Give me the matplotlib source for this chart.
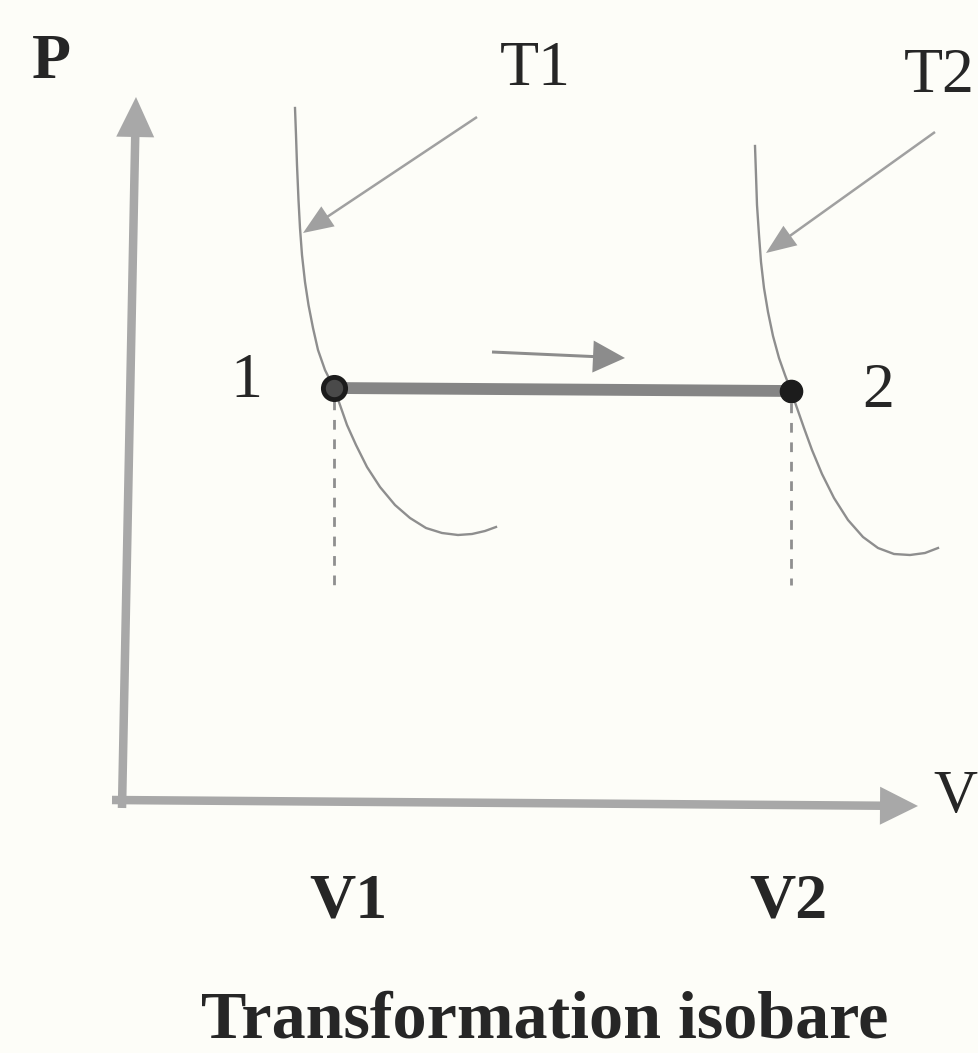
import matplotlib.pyplot as plt

# isobaric process diagram, V and P in arbitrary units (origin = axes corner)

v_states = [2.14, 6.71]      # V1, V2
p_states = [4.12, 4.09]      # pressure of states 1 and 2 (same isobar)
state_labels = ["1", "2"]
v_labels = ["V1", "V2"]

# isotherm T1
t1_v = [1.75, 1.76, 1.77, 1.785, 1.80, 1.82, 1.85, 1.885, 1.93, 1.98, 2.05,
        2.14, 2.20, 2.27, 2.36, 2.47, 2.60, 2.75, 2.90, 3.06, 3.22, 3.38,
        3.52, 3.65, 3.76]
t1_p = [6.92, 6.65, 6.35, 6.00, 5.72, 5.45, 5.18, 4.95, 4.72, 4.50, 4.30,
        4.12, 3.95, 3.75, 3.55, 3.33, 3.13, 2.95, 2.82, 2.72, 2.67, 2.65,
        2.66, 2.69, 2.73]

# isotherm T2
t2_v = [6.35, 6.36, 6.37, 6.39, 6.41, 6.44, 6.48, 6.53, 6.59, 6.65, 6.71,
        6.77, 6.84, 6.92, 7.02, 7.14, 7.28, 7.43, 7.58, 7.74, 7.90, 8.05,
        8.18]
t2_p = [6.54, 6.25, 5.95, 5.65, 5.38, 5.12, 4.88, 4.64, 4.42, 4.25, 4.09,
        3.92, 3.72, 3.50, 3.26, 3.02, 2.80, 2.63, 2.52, 2.46, 2.45, 2.47,
        2.52]

dash_bottom = 2.15

serif = ["Liberation Serif", "DejaVu Serif"]
ink = "#262626"
bg = "#fdfdf8"

fig = plt.figure(figsize=(9.79, 10.53), dpi=100, facecolor=bg)
ax = fig.add_axes([0, 0, 1, 1])
ax.set_facecolor(bg)
ax.set_xlim(-1.2, 8.59)
ax.set_ylim(-2.53, 8.0)
ax.axis("off")

# axes arrows
ax.arrow(0.02, -0.08, 0.14, 7.11, width=0.085, head_width=0.38, head_length=0.40,
         length_includes_head=True, color="#a8a8a8", ec="none", zorder=1)
ax.arrow(-0.08, 0.0, 8.06, -0.06, width=0.085, head_width=0.38, head_length=0.38,
         length_includes_head=True, color="#a8a8a8", ec="none", zorder=1)

# isotherms
ax.plot(t1_v, t1_p, color="#8e8e8e", lw=1.7, zorder=2,
        solid_joinstyle="round")
ax.plot(t2_v, t2_p, color="#8e8e8e", lw=1.7, zorder=2,
        solid_joinstyle="round")

# dashed guides down from states
for v, p in zip(v_states, p_states):
    ax.plot([v, v], [p - 0.12, dash_bottom], color="#8f8f8f", lw=2.0,
            ls=(0, (3.5, 3.5)), zorder=2)

# isobar 1 -> 2
ax.plot(v_states, p_states, color="#858585", lw=8.5, solid_capstyle="butt",
        zorder=3)
ax.plot(v_states[0], p_states[0], "o", ms=16, mfc="#4a4a4a", mec="#1c1c1c",
        mew=3.5, zorder=4)
ax.plot(v_states[1], p_states[1], "o", ms=16, mfc="#1c1c1c", mec="#1c1c1c",
        zorder=4)

# direction arrow
ax.arrow(3.72, 4.48, 1.33, -0.06, width=0.03, head_width=0.32, head_length=0.32,
         length_includes_head=True, color="#8c8c8c", ec="none", zorder=3)

# pointers to the isotherms
ax.arrow(3.57, 6.83, -1.74, -1.16, width=0.025, head_width=0.24, head_length=0.30,
         length_includes_head=True, color="#a0a0a0", ec="none", zorder=3)
ax.arrow(8.15, 6.68, -1.69, -1.21, width=0.025, head_width=0.24, head_length=0.30,
         length_includes_head=True, color="#a0a0a0", ec="none", zorder=3)

# labels
ax.text(-0.69, 7.22, "P", family=serif, weight="bold", fontsize=46, color=ink,
        ha="center", va="baseline")
ax.text(4.15, 7.15, "T1", family=serif, fontsize=46, color=ink,
        ha="center", va="baseline")
ax.text(8.19, 7.08, "T2", family=serif, fontsize=46, color=ink,
        ha="center", va="baseline")
ax.text(1.26, 4.03, state_labels[0], family=serif, fontsize=46, color=ink,
        ha="center", va="baseline")
ax.text(7.58, 3.93, state_labels[1], family=serif, fontsize=46, color=ink,
        ha="center", va="baseline")
ax.text(8.35, -0.12, "V", family=serif, fontsize=44, color=ink,
        ha="center", va="baseline")
for v, lab in zip([2.28, 6.68], v_labels):
    ax.text(v, -1.18, lab, family=serif, weight="bold", fontsize=46, color=ink,
            ha="center", va="baseline")
ax.text(4.25, -2.37, "Transformation isobare", family=serif, weight="bold",
        fontsize=49, color=ink, ha="center", va="baseline")

fig.savefig("out.png", dpi=100, facecolor=bg)
